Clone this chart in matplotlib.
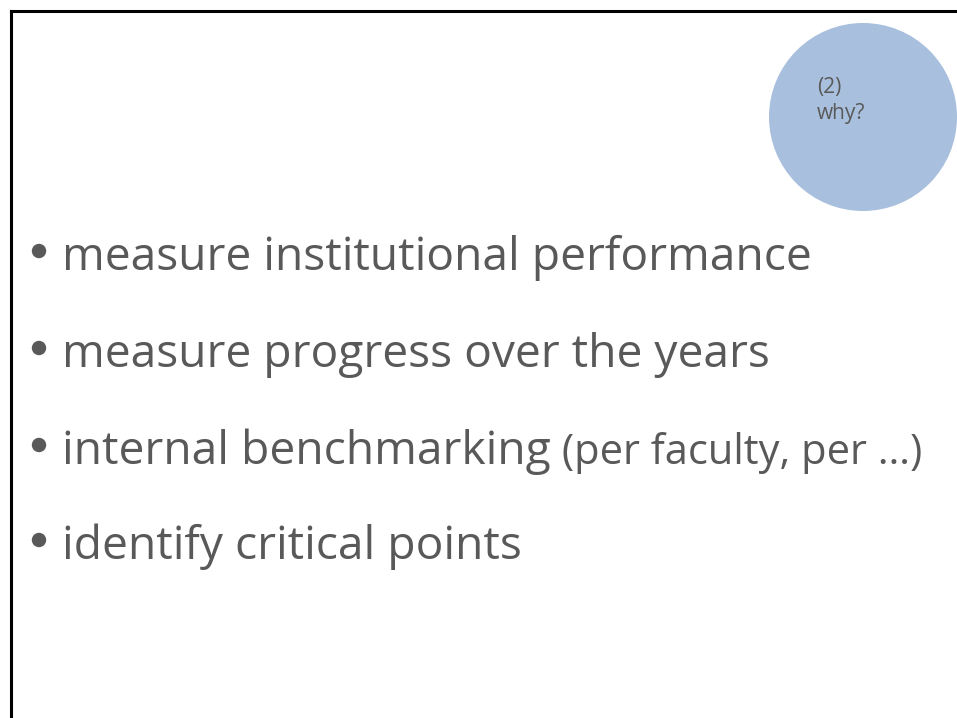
import matplotlib
matplotlib.use("Agg")
import matplotlib.pyplot as plt
from matplotlib.patches import Circle

bullets = ["measure institutional performance",
           "measure progress over the years",
           "internal benchmarking",
           "identify critical points"]
suffix = " (per faculty, per …)"
circle_lines = ["(2)", "why?"]

FONT = "Open Sans"
COLOR = "#595959"

fig = plt.figure(figsize=(9.57, 7.18), dpi=100)
ax = fig.add_axes([0, 0, 1, 1])
ax.set_xlim(0, 957)
ax.set_ylim(718, 0)
ax.axis("off")

# slide border (top and left visible)
ax.plot([11, 11], [718, 11], color="black", lw=2.2, solid_capstyle="projecting")
ax.plot([11, 957], [11, 11], color="black", lw=2.2, solid_capstyle="projecting")

# circle
ax.add_patch(Circle((863, 117), 94, facecolor="#a8bfdd", edgecolor="none"))
for txt, yb in zip(circle_lines, [93, 119]):
    ax.text(817, yb, txt, fontsize=15, family=FONT, color=COLOR, va="baseline")

baselines = [270, 367, 464, 559]
size = 33.2
for i, (txt, yb) in enumerate(zip(bullets, baselines)):
    ax.add_patch(Circle((39, yb - 19), 7.2, facecolor=COLOR, edgecolor="none"))
    t = ax.text(62, yb, txt, fontsize=size, family=FONT, color=COLOR, va="baseline")
    if i == 2:
        fig.canvas.draw()
        bb = t.get_window_extent()
        x_end = bb.x1
        ax.annotate(suffix, xy=(x_end, 718 - yb), xycoords="figure pixels",
                    fontsize=30, family=FONT, color=COLOR, va="baseline")

fig.savefig("out.png", dpi=100)
